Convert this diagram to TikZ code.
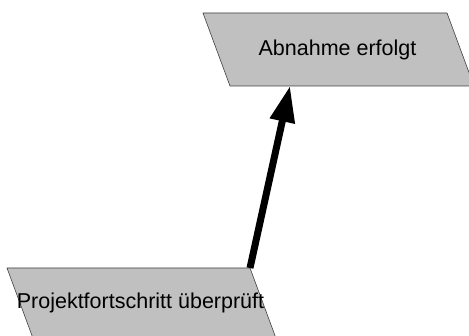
\documentclass[tikz,border=0pt]{standalone}
\usepackage{fontspec}
\setmainfont{Liberation Sans}
\usetikzlibrary{arrows.meta}
\definecolor{shapefill}{HTML}{C0C0C0}
\definecolor{shapeline}{HTML}{404040}
\tikzset{
  iobox/.style={fill=shapefill, draw=shapeline, line width=0.6pt},
  label/.style={font=\fontsize{21.5}{25}\selectfont, text=black, inner sep=0pt},
  flow/.style={line width=7pt, -{Triangle[length=36pt,width=24pt]}}
}
\begin{document}
\begin{tikzpicture}[x=1pt,y=-1pt]
\useasboundingbox (0,0) rectangle (469,336);
% top parallelogram
\path[iobox] (203,13) -- (447,13) -- (474,86) -- (230,86) -- cycle;
\node[label] (abn) at (337.5,50) {Abnahme erfolgt};
% bottom parallelogram
\path[iobox] (7,268) -- (250,268) -- (277,341) -- (34,341) -- cycle;
\node[label] (proj) at (140.5,303) {Projektfortschritt überprüft};
\coordinate (projout) at (250,268);
\coordinate (abnin) at (290,86);
\draw[flow] (projout) -- (abnin);
\end{tikzpicture}
\end{document}
